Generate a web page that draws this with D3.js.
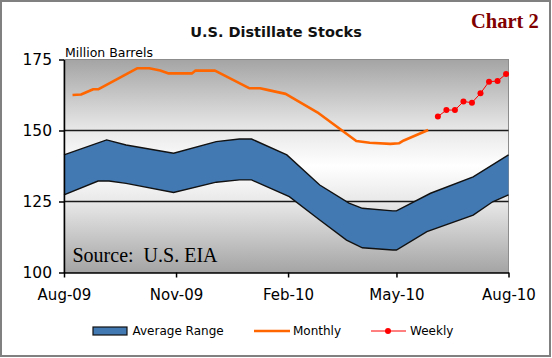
<!DOCTYPE html>
<html><head><meta charset="utf-8">
<script src="https://cdn.jsdelivr.net/npm/d3@7"></script>
<style>
html,body{margin:0;padding:0;background:#fff;}
svg{display:block;}
text{font-family:"DejaVu Sans",sans-serif;}
</style></head>
<body><svg id="c" width="552" height="358"></svg>
<script>
// ---- data ----
const upperDates = ["2009-08-01","2009-09-05","2009-09-21","2009-10-30","2009-12-04","2009-12-23","2010-01-02","2010-01-31","2010-02-27","2010-03-23","2010-04-03","2010-04-28","2010-05-01","2010-05-29","2010-07-03","2010-08-01"];
const upperValues = [141.4,146.7,144.9,142.0,146.1,147.0,147.0,141.4,130.8,124.4,122.6,121.7,121.7,127.9,133.7,141.4];
const lowerDates = ["2009-08-01","2009-08-29","2009-09-07","2009-09-21","2009-10-30","2009-12-04","2009-12-23","2010-01-02","2010-02-02","2010-02-27","2010-03-21","2010-04-03","2010-04-28","2010-05-01","2010-05-26","2010-07-03","2010-07-19","2010-08-01"];
const lowerValues = [127.3,132.2,132.2,131.4,128.2,131.8,132.6,132.6,126.7,118.5,111.4,108.7,107.9,107.9,114.4,120.2,124.9,127.3];
const monthlyDates = ["2009-08-08","2009-08-15","2009-08-25","2009-08-29","2009-09-30","2009-10-10","2009-10-19","2009-10-26","2009-11-14","2009-11-17","2009-12-03","2009-12-31","2010-01-09","2010-01-15","2010-01-30","2010-02-25","2010-03-29","2010-04-09","2010-04-26","2010-05-03","2010-05-07","2010-05-27"];
const monthlyValues = [162.5,162.7,164.5,164.5,171.9,171.9,171.1,170.1,170.1,171.1,171.1,164.9,164.9,164.3,162.9,156.4,146.3,145.7,145.3,145.5,146.5,150.2];
const weeklyDates = ["2010-06-04","2010-06-11","2010-06-18","2010-06-25","2010-07-02","2010-07-09","2010-07-16","2010-07-23","2010-07-30"];
const weeklyValues = [154.9,157.2,157.2,160.2,159.8,163.1,167.2,167.4,169.9];
const xTickDates = ["2009-08-01","2009-11-01","2010-02-01","2010-05-01","2010-08-01"];
const yTicks = [100,125,150,175];
const seriesNames = ["Average Range","Monthly","Weekly"];

const parse = d3.utcParse("%Y-%m-%d");
const svg = d3.select("#c");
const L = 64, R = 508.5, T = 59.5, B = 272.5;
const x = d3.scaleUtc().domain([parse("2009-08-01"), parse("2010-08-01")]).range([L, R]);
const y = d3.scaleLinear().domain([100, 175]).range([B, T]);

// outer border
svg.append("rect").attr("x",1).attr("y",1).attr("width",549).attr("height",355)
  .attr("fill","#fff").attr("stroke","#808080").attr("stroke-width",2);

// background gradient
const defs = svg.append("defs");
const g1 = defs.append("linearGradient").attr("id","bg").attr("x1",0).attr("y1",0).attr("x2",0).attr("y2",1);
[[0,"#a4a4a4"],[0.33,"#e8e8e8"],[0.5,"#ffffff"],[0.67,"#e8e8e8"],[1,"#a4a4a4"]].forEach(s=>g1.append("stop").attr("offset",s[0]).attr("stop-color",s[1]));
svg.append("rect").attr("x",L).attr("y",T).attr("width",R-L).attr("height",B-T).attr("fill","url(#bg)")
  .attr("stroke","#8c8c8c").attr("stroke-width",1);

// gridlines
svg.append("g").selectAll("line").data([125,150]).join("line")
  .attr("x1",L).attr("x2",R).attr("y1",d=>y(d)).attr("y2",d=>y(d))
  .attr("stroke","#1a1a1a").attr("stroke-width",1.5);

// band
const up = upperDates.map((d,i)=>[x(parse(d)), y(upperValues[i])]);
const lo = lowerDates.map((d,i)=>[x(parse(d)), y(lowerValues[i])]);
const line = d3.line();
svg.append("path").attr("d", line(up.concat(lo.slice().reverse()))+"Z").attr("fill","#4279b2");
svg.append("path").attr("d", line(up)).attr("fill","none").attr("stroke","#111").attr("stroke-width",1.4);
svg.append("path").attr("d", line(lo)).attr("fill","none").attr("stroke","#111").attr("stroke-width",1.4);

// monthly
svg.append("path").attr("d", line(monthlyDates.map((d,i)=>[x(parse(d)), y(monthlyValues[i])])))
  .attr("fill","none").attr("stroke","#ff6600").attr("stroke-width",2.6).attr("stroke-linejoin","round");

// weekly
const wk = weeklyDates.map((d,i)=>[x(parse(d)), y(weeklyValues[i])]);
svg.append("path").attr("d", line(wk)).attr("fill","none").attr("stroke","#ff0000").attr("stroke-width",1);
svg.append("g").selectAll("circle").data(wk).join("circle")
  .attr("cx",d=>d[0]).attr("cy",d=>d[1]).attr("r",3).attr("fill","#ff0000");

// axes
const yAxis = d3.axisLeft(y).tickValues(yTicks).tickSize(5).tickSizeOuter(0).tickPadding(7);
const gy = svg.append("g").attr("transform",`translate(${L},0)`).call(yAxis);
gy.select(".domain").attr("stroke","#000").attr("stroke-width",1.5);
gy.selectAll(".tick line").attr("stroke","#000").attr("stroke-width",1.5);
gy.selectAll("text").attr("font-family","DejaVu Sans").attr("font-size",15.5).attr("fill","#000");

const xAxis = d3.axisBottom(x).tickValues(xTickDates.map(parse)).tickFormat(d3.utcFormat("%b-%y")).tickSize(5).tickSizeOuter(0).tickPadding(12);
const gx = svg.append("g").attr("transform",`translate(0,${B})`).call(xAxis);
gx.select(".domain").attr("stroke","#000").attr("stroke-width",1.5);
gx.selectAll(".tick line").attr("stroke","#000").attr("stroke-width",1.5);
gx.selectAll("text").attr("font-family","DejaVu Sans").attr("font-size",15).attr("fill","#000");

// titles
svg.append("text").attr("x",276).attr("y",37).attr("text-anchor","middle")
  .attr("font-weight","bold").attr("font-size",14.5).attr("fill","#111").text("U.S. Distillate Stocks");
svg.append("text").attr("x",471).attr("y",28).attr("font-weight","bold")
  .attr("font-size",20.5).attr("fill","#800000").style("font-family","'Liberation Serif',serif").text("Chart 2");
svg.append("text").attr("x",65).attr("y",56.5).attr("font-size",12.5).attr("fill","#000").text("Million Barrels");
svg.append("text").attr("x",72.5).attr("y",262).attr("font-size",20).attr("fill","#000")
  .style("font-family","'Liberation Serif',serif").style("white-space","pre").text("Source:  U.S. EIA");

// legend
const lg = svg.append("g");
lg.append("rect").attr("x",93).attr("y",327).attr("width",34).attr("height",8).attr("fill","#4279b2").attr("stroke","#111").attr("stroke-width",1.2);
lg.append("text").attr("x",132.5).attr("y",335).attr("font-size",12).text(seriesNames[0]);
lg.append("line").attr("x1",254).attr("x2",290).attr("y1",331).attr("y2",331).attr("stroke","#ff6600").attr("stroke-width",2.6);
lg.append("text").attr("x",293).attr("y",335).attr("font-size",12).text(seriesNames[1]);
lg.append("line").attr("x1",371).attr("x2",406).attr("y1",331).attr("y2",331).attr("stroke","#ff0000").attr("stroke-width",1);
lg.append("circle").attr("cx",388).attr("cy",331).attr("r",3).attr("fill","#ff0000");
lg.append("text").attr("x",410).attr("y",335).attr("font-size",12).text(seriesNames[2]);
</script></body></html>
